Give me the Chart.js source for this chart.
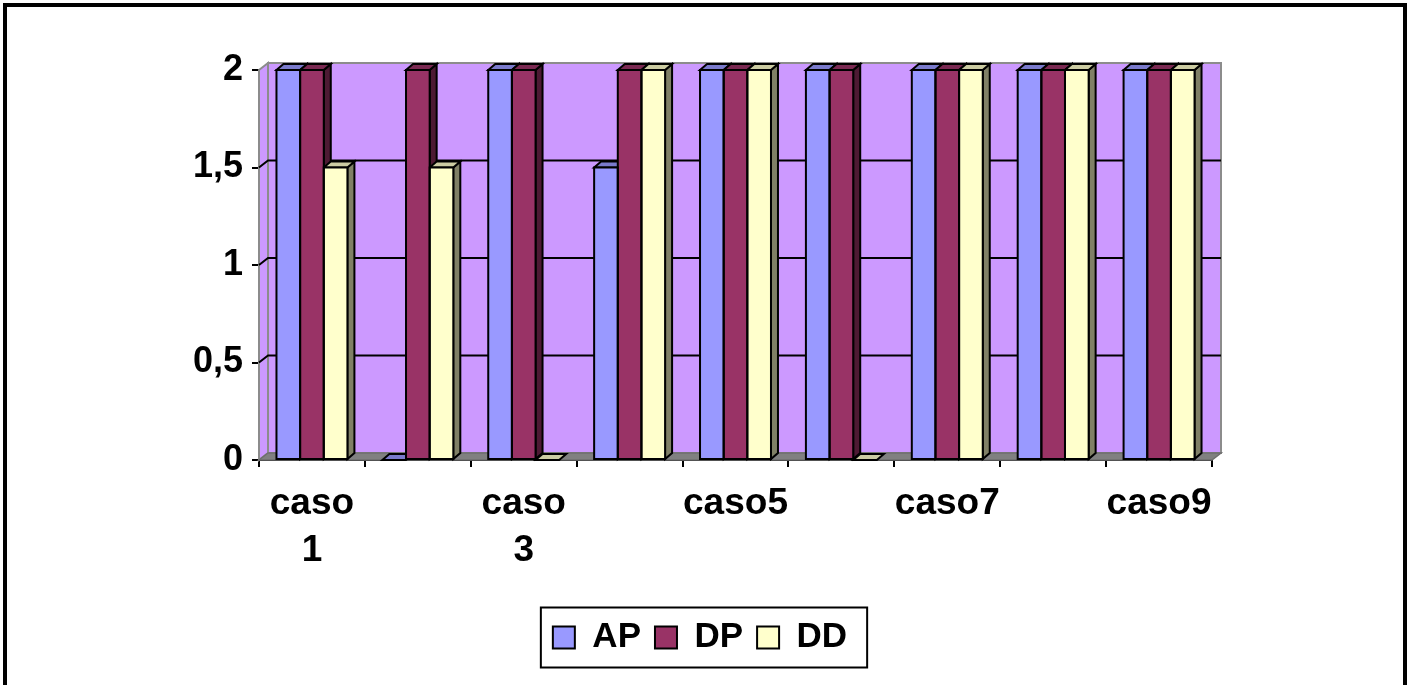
<!DOCTYPE html>
<html>
<head>
<meta charset="utf-8">
<title>AP / DP / DD</title>
<style>
  html, body { margin: 0; padding: 0; background: #ffffff; }
  #wrap { width: 1414px; height: 685px; position: relative; }
  canvas { display: block; }
</style>
</head>
<body>
<div id="wrap"><canvas id="chart" width="1414" height="685"></canvas></div>
<script src="https://cdn.jsdelivr.net/npm/chart.js@4.4.1/dist/chart.umd.min.js"></script>
<script>
// ---- data ----
const categories = ['caso 1', 'caso 2', 'caso 3', 'caso 4', 'caso5', 'caso6', 'caso7', 'caso8', 'caso9'];
const seriesNames = ['AP', 'DP', 'DD'];
const apValues = [2, 0, 2, 1.5, 2, 2, 2, 2, 2];
const dpValues = [2, 2, 2, 2, 2, 2, 2, 2, 2];
const ddValues = [1.5, 1.5, 0, 2, 2, 0, 2, 2, 2];
const yTickValues = [0, 0.5, 1, 1.5, 2];

// ---- look ----
const FRONT = ['#9999FF', '#993366', '#FFFFCC'];
const TOP   = ['#7A7ACC', '#7A2952', '#CCCCA3'];
const SIDE  = ['#4D4D80', '#4D1A33', '#808066'];
const WALL = '#CC99FF';
const FLOOR = '#808080';
const EDGE = '#8C8C8C';
const WALL_DX = 9, WALL_DY = 7;   // depth of the back wall
const BAR_DX = 7, BAR_DY = 6;     // depth of each column
const FONT = "'Liberation Sans', Arial, Helvetica, sans-serif";

function poly(ctx, pts, fill, stroke, lw) {
  ctx.beginPath();
  ctx.moveTo(pts[0][0], pts[0][1]);
  for (let i = 1; i < pts.length; i++) ctx.lineTo(pts[i][0], pts[i][1]);
  ctx.closePath();
  if (fill) { ctx.fillStyle = fill; ctx.fill(); }
  if (stroke) { ctx.strokeStyle = stroke; ctx.lineWidth = lw; ctx.stroke(); }
}

// walls, floor, gridlines and the depth faces of every column
const depthPlugin = {
  id: 'depth3d',
  beforeDatasetsDraw(chart) {
    const ctx = chart.ctx;
    const { left: L, right: R, top: T, bottom: B } = chart.chartArea;
    const yS = chart.scales.y;
    ctx.save();
    ctx.lineJoin = 'miter';

    // back wall
    poly(ctx, [[L + WALL_DX, T - WALL_DY], [R + WALL_DX, T - WALL_DY], [R + WALL_DX, B - WALL_DY], [L + WALL_DX, B - WALL_DY]], WALL, EDGE, 2);
    // side wall
    poly(ctx, [[L, T], [L + WALL_DX, T - WALL_DY], [L + WALL_DX, B - WALL_DY], [L, B]], WALL, EDGE, 2);
    // floor
    poly(ctx, [[L, B], [L + WALL_DX, B - WALL_DY], [R + WALL_DX, B - WALL_DY], [R, B]], FLOOR, '#6E6E6E', 1.5);

    // gridlines on side wall and back wall
    ctx.strokeStyle = '#000000';
    ctx.lineWidth = 2;
    yTickValues.forEach(v => {
      if (v <= yS.min || v >= yS.max) return;
      const py = yS.getPixelForValue(v);
      ctx.beginPath();
      ctx.moveTo(L, py);
      ctx.lineTo(L + WALL_DX, py - WALL_DY);
      ctx.lineTo(R + WALL_DX, py - WALL_DY);
      ctx.stroke();
    });

    // column side and top faces (fronts are drawn by the bar controller)
    chart.data.datasets.forEach((ds, di) => {
      const meta = chart.getDatasetMeta(di);
      meta.data.forEach((bar, i) => {
        const xl = bar.x - bar.width / 2;
        const xr = bar.x + bar.width / 2;
        const yt = Math.min(bar.y, bar.base);
        const yb = Math.max(bar.y, bar.base);
        if (yb - yt > 0.5) {
          poly(ctx, [[xr, yt], [xr + BAR_DX, yt - BAR_DY], [xr + BAR_DX, yb - BAR_DY], [xr, yb]], SIDE[di], '#000', 2);
        }
        poly(ctx, [[xl, yt], [xl + BAR_DX, yt - BAR_DY], [xr + BAR_DX, yt - BAR_DY], [xr, yt]], TOP[di], '#000', 2);
      });
    });
    ctx.restore();
  },
  afterDatasetsDraw(chart) {
    const ctx = chart.ctx;
    ctx.save();
    ctx.strokeStyle = '#000';
    ctx.lineWidth = 2;
    chart.data.datasets.forEach((ds, di) => {
      chart.getDatasetMeta(di).data.forEach(bar => {
        const h = Math.abs(bar.base - bar.y);
        if (h < 0.5) return;
        ctx.strokeRect(bar.x - bar.width / 2, Math.min(bar.y, bar.base), bar.width, h);
      });
    });
    ctx.restore();
  }
};

// legend frame and the outer chart border
const framePlugin = {
  id: 'frames',
  beforeDraw(chart) {
    const ctx = chart.ctx;
    ctx.save();
    ctx.fillStyle = '#ffffff';
    ctx.fillRect(0, 0, chart.width, chart.height);
    ctx.restore();
  },
  afterDraw(chart) {
    const ctx = chart.ctx;
    ctx.save();
    const boxes = chart.legend && chart.legend.legendHitBoxes;
    if (boxes && boxes.length) {
      const x0 = Math.min(...boxes.map(b => b.left)) - 12;
      const x1 = Math.max(...boxes.map(b => b.left + b.width)) + 20;
      const cy = boxes[0].top + boxes[0].height / 2;
      ctx.strokeStyle = '#000';
      ctx.lineWidth = 2;
      ctx.strokeRect(x0, cy - 30, x1 - x0, 60);
    }
    ctx.strokeStyle = '#000';
    ctx.lineWidth = 4;
    ctx.strokeRect(5, 5, 1400, 700);
    ctx.restore();
  }
};

const valueLists = [apValues, dpValues, ddValues];

new Chart(document.getElementById('chart'), {
  type: 'bar',
  data: {
    labels: categories,
    datasets: seriesNames.map((name, i) => ({
      label: name,
      data: valueLists[i],
      backgroundColor: FRONT[i],
      borderColor: '#000000',
      borderWidth: 0,
      categoryPercentage: 0.67,
      barPercentage: 1.0
    }))
  },
  options: {
    responsive: false,
    devicePixelRatio: 1,
    animation: false,
    layout: { padding: { top: 70, left: 7, right: 21, bottom: 20 } },
    plugins: {
      tooltip: { enabled: false },
      legend: {
        position: 'bottom',
        labels: {
          color: '#000',
          font: { family: FONT, size: 35, weight: 'bold' },
          boxWidth: 22,
          boxHeight: 22,
          padding: 14,
          generateLabels(chart) {
            return Chart.defaults.plugins.legend.labels.generateLabels(chart).map(l => {
              l.strokeStyle = '#000';
              l.lineWidth = 2;
              return l;
            });
          }
        }
      }
    },
    scales: {
      x: {
        grid: { display: true, drawOnChartArea: false, drawTicks: true, tickLength: 7, color: '#000', lineWidth: 2, offset: true },
        border: { display: true, color: '#000', width: 2 },
        ticks: {
          color: '#000',
          autoSkip: false,
          maxRotation: 0,
          padding: 13,
          font: { family: FONT, size: 37, weight: 'bold', lineHeight: 1.28 },
          callback(value, index) {
            if (index % 2 !== 0) return '';
            return categories[index].split(' ');
          }
        },
        afterFit(scale) {
          const lh = scale.chart.legend ? scale.chart.legend.height : 0;
          scale.height = (685 - 20) - 460 - lh;
        }
      },
      y: {
        min: 0,
        max: 2,
        grid: { display: true, drawOnChartArea: false, drawTicks: true, tickLength: 7, color: '#000', lineWidth: 2 },
        border: { display: true, color: '#000', width: 2 },
        ticks: {
          stepSize: 0.5,
          color: '#000',
          padding: 9,
          font: { family: FONT, size: 36, weight: 'bold' },
          callback(value) { return String(value).replace('.', ','); }
        },
        afterFit(scale) { scale.width = 252; }
      },
      yRight: {
        position: 'right',
        display: true,
        grid: { display: false },
        border: { display: false },
        ticks: { display: false },
        afterFit(scale) { scale.width = 181; }
      }
    }
  },
  plugins: [depthPlugin, framePlugin]
});
</script>
</body>
</html>
